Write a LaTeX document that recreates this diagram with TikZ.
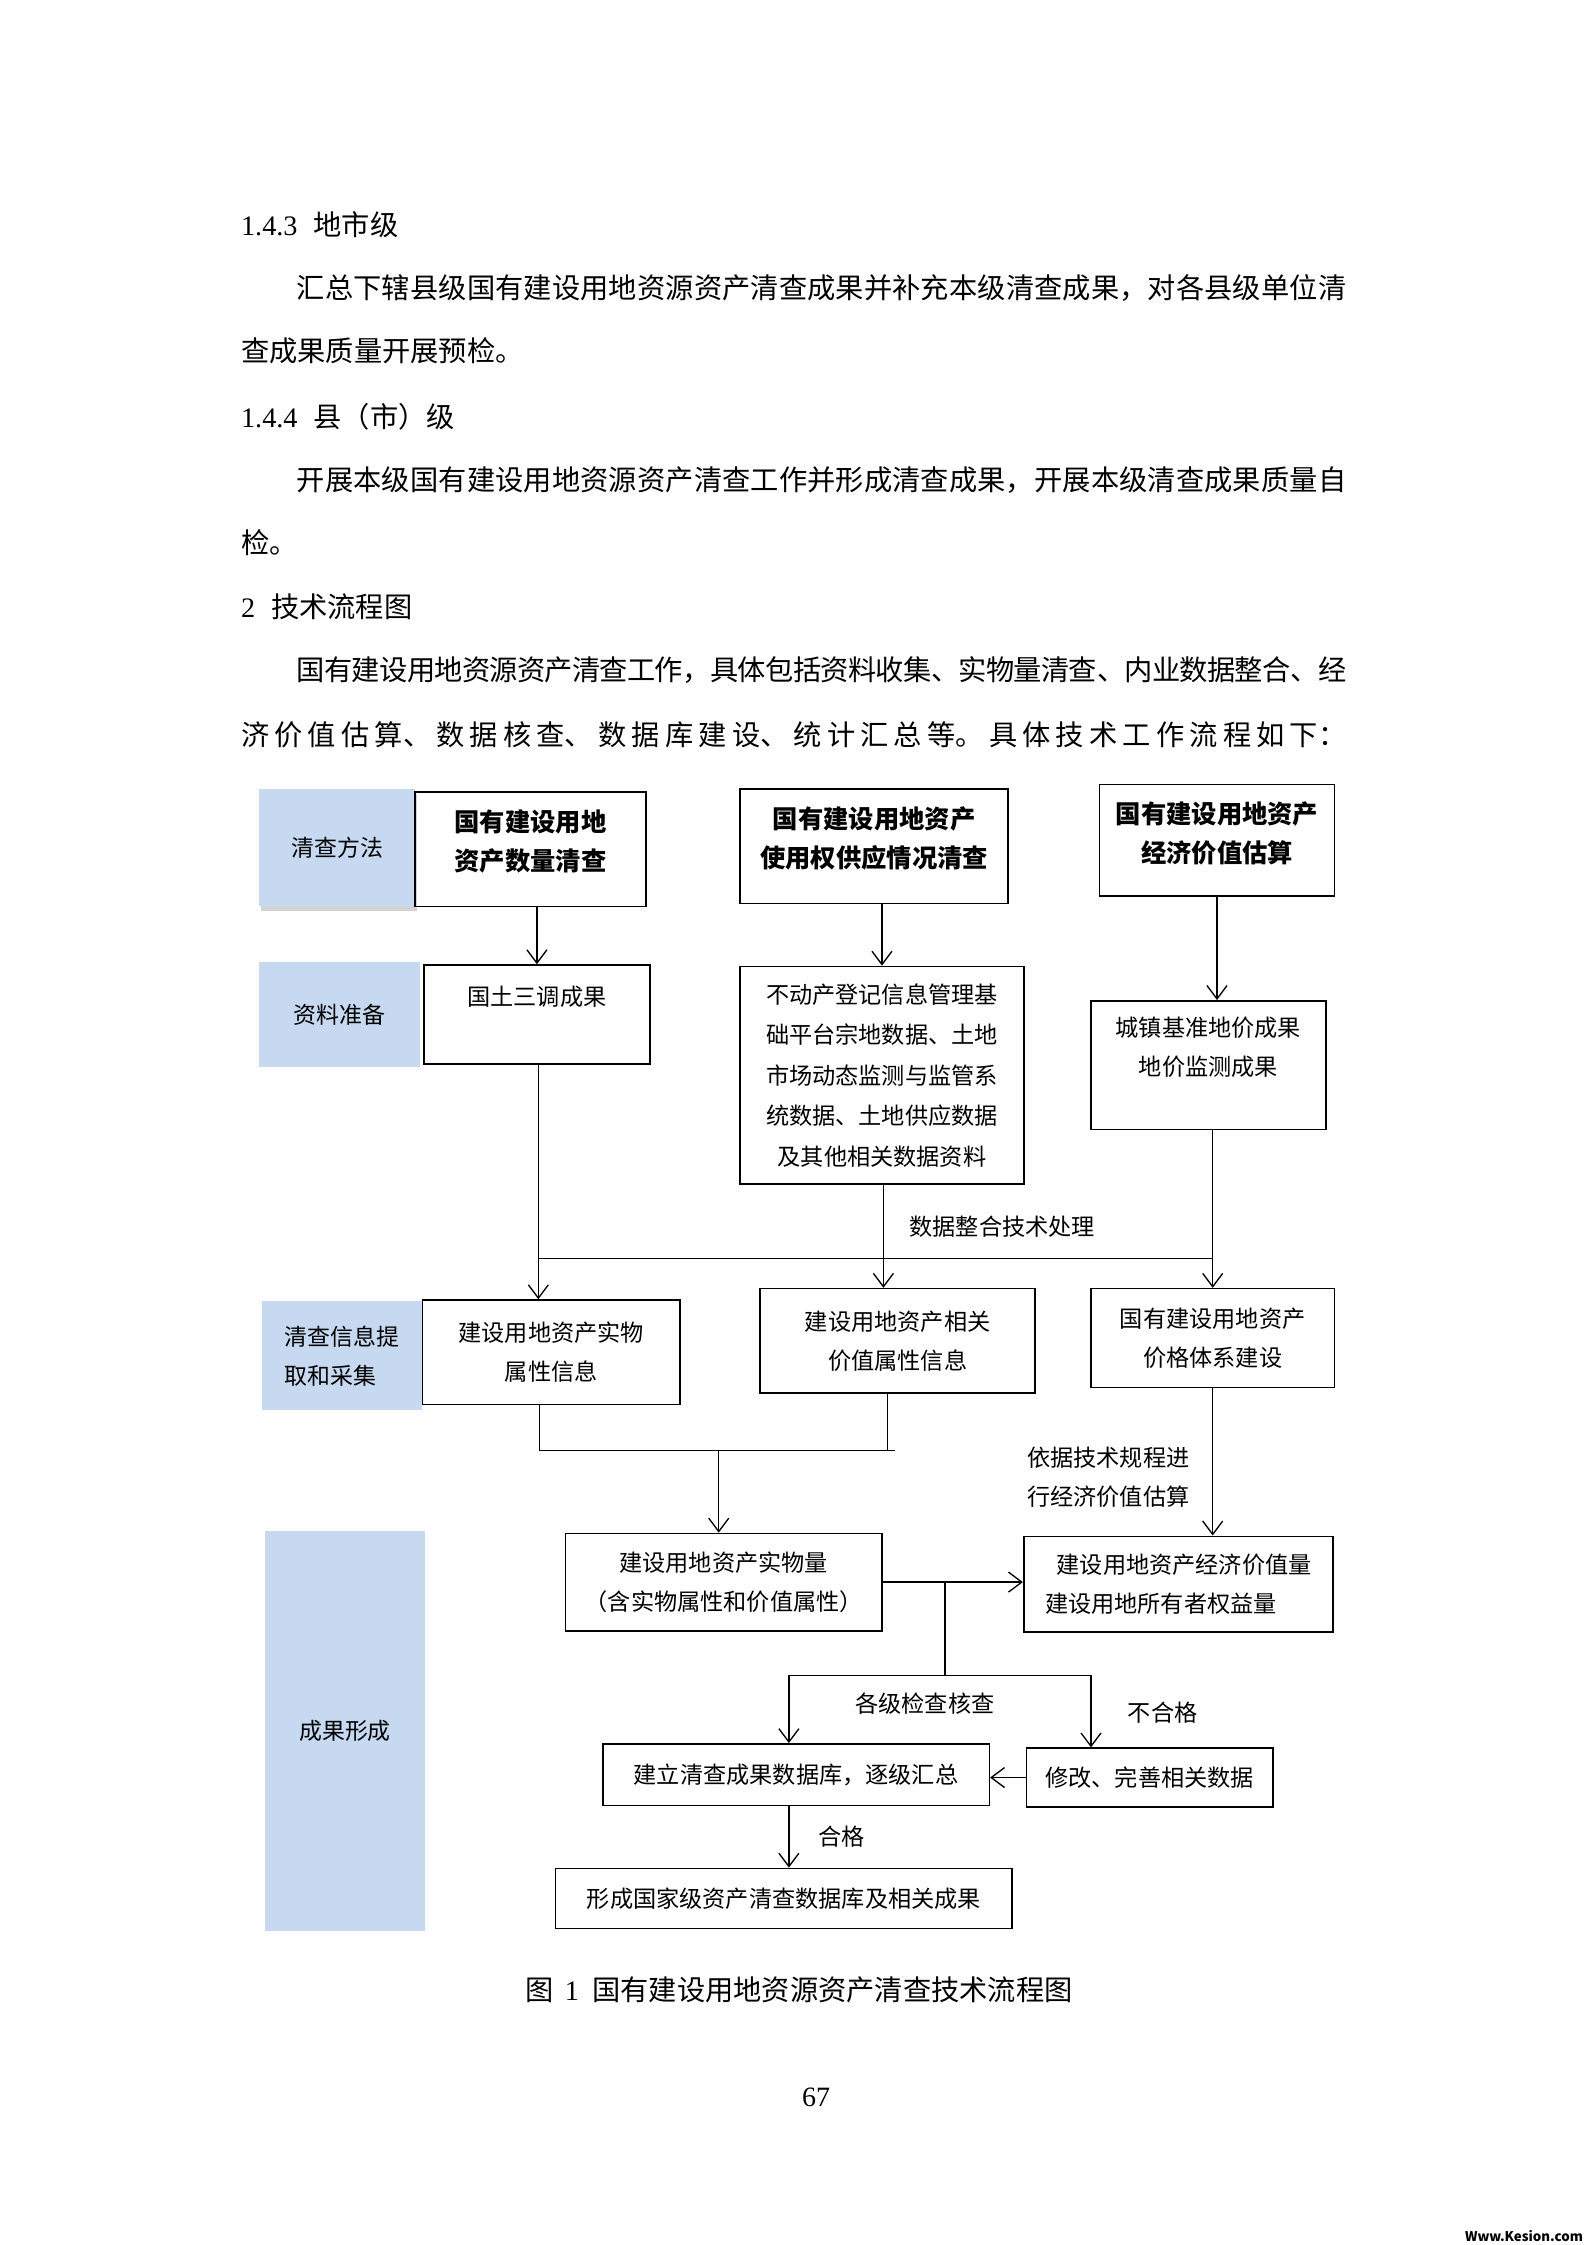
\documentclass[tikz,border=0pt]{standalone}
\usepackage{fontspec}
\setmainfont{Noto Sans CJK SC}
\newfontfamily\tnr{Liberation Serif}
\usepackage{tikz}
\usetikzlibrary{arrows.meta, positioning, calc, shadows}
\XeTeXlinebreaklocale "zh"
\XeTeXlinebreakskip=0pt plus 2pt minus 0.5pt
\definecolor{tagblue}{RGB}{198,217,240}
\def\px{0.5373pt}
% one justified line of body text
\newcommand\fillline[2]{\parbox{#1}{\tolerance=9999\parfillskip=0pt\relax #2}}

\tikzset{
  wh/.style 2 args={minimum width=#1*\px, minimum height=#2*\px},
  flowbox/.style={draw, line width=0.6pt, inner sep=0pt, align=center, font=\fontsize{8.7}{14.6}\selectfont},
  titlebox/.style={flowbox, font=\bfseries\fontsize{9.5}{14.6}\selectfont},
  tagbox/.style={fill=tagblue, inner sep=0pt, align=center, font=\fontsize{8.6}{14.6}\selectfont},
  note/.style={inner sep=0pt, align=left, font=\fontsize{8.7}{14.6}\selectfont},
  bodytext/.style={inner sep=0pt, anchor=west, font=\fontsize{10.6}{12}\selectfont},
  link/.style={line width=0.5pt},
}

\begin{document}
\begin{tikzpicture}[x=\px, y=-\px, >={Straight Barb[length=5pt,width=7.5pt]}]
\useasboundingbox (0,0) rectangle (1108,1568);

% body text above the chart
\node[bodytext] (h143) at (168,157) {{\tnr 1.4.3}\hspace{6pt}地市级};
\node[bodytext] (p1a) at (207,201) {\fillline{393.8pt}{汇总下辖县级国有建设用地资源资产清查成果并补充本级清查成果，对各县级单位清}};
\node[bodytext] (p1b) at (168,245) {查成果质量开展预检。};
\node[bodytext] (h144) at (168,291) {{\tnr 1.4.4}\hspace{6pt}县（市）级};
\node[bodytext] (p2a) at (207,335) {\fillline{393.8pt}{开展本级国有建设用地资源资产清查工作并形成清查成果，开展本级清查成果质量自}};
\node[bodytext] (p2b) at (168,379) {检。};
\node[bodytext] (h2) at (168,424) {{\tnr 2}\hspace{6pt}技术流程图};
\node[bodytext] (p3a) at (207,468) {\fillline{393.8pt}{国有建设用地资源资产清查工作，具体包括资料收集、实物量清查、内业数据整合、经}};
\node[bodytext] (p3b) at (168,513) {\fillline{414.8pt}{济价值估算、数据核查、数据库建设、统计汇总等。具体技术工作流程如下：}};

% stage tags
\node[tagbox, wh={109}{82}, drop shadow={shadow xshift=0.8pt, shadow yshift=-1.8pt, opacity=0.35}] (tmethod) at (235.5,592) {清查方法};
\node[tagbox, wh={112}{73}] (tdata) at (237,708.5) {资料准备};
\node[tagbox, wh={112}{76}, align=left] (tcollect) at (239,947) {清查信息提\\取和采集};
\node[tagbox, wh={112}{280}] (tresult) at (241,1209) {成果形成};

% row 1: methods
\node[titlebox, wh={161}{80}] (m1) at (370.5,593) {国有建设用地\\资产数量清查\\[-8pt]\mbox{}};
\node[titlebox, wh={187}{80}] (m2) at (610.5,591) {国有建设用地资产\\使用权供应情况清查\\[-8pt]\mbox{}};
\node[titlebox, wh={164}{78}] (m3) at (850,587) {国有建设用地资产\\经济价值估算\\[-8pt]\mbox{}};

% row 2: data
\node[flowbox, wh={158}{69}, label={[note, anchor=north, yshift=-8pt]north:国土三调成果}] (d1) at (375,708.5) {};
\node[flowbox, wh={198}{152}, font=\fontsize{8.7}{15.2}\selectfont] (d2) at (616,751) {不动产登记信息管理基\\础平台宗地数据、土地\\市场动态监测与监管系\\统数据、土地供应数据\\及其他相关数据资料};
\node[flowbox, wh={164}{90}] (d3) at (844,744) {城镇基准地价成果\\地价监测成果\\\mbox{}};

% row 3: collection
\node[flowbox, wh={180}{73}] (c1) at (385,944.5) {建设用地资产实物\\属性信息};
\node[flowbox, wh={192}{73}] (c2) at (627,936.5) {建设用地资产相关\\价值属性信息};
\node[flowbox, wh={170}{69}] (c3) at (847,934.5) {国有建设用地资产\\价格体系建设};

% row 4: results
\node[flowbox, wh={221}{68}] (r1) at (505.5,1105) {建设用地资产实物量\\（含实物属性和价值属性）};
\node[flowbox, wh={216}{67}, align=left] (r2) at (823,1106.5) {\hspace{0.5em}建设用地资产经济价值量\\建设用地所有者权益量};
\node[flowbox, wh={270}{43}] (k1) at (556,1239.5) {建立清查成果数据库，逐级汇总};
\node[flowbox, wh={172}{41}] (k2) at (803,1241.5) {修改、完善相关数据};
\node[flowbox, wh={319}{42}] (f1) at (547.5,1326) {形成国家级资产清查数据库及相关成果};

% junctions
\coordinate (bl) at (376,879);
\coordinate (bm) at (617,879);
\coordinate (br) at (847,879);
\coordinate (ml) at (377,1013);
\coordinate (mc) at (620,1013);
\coordinate (mr) at (625,1013);
\coordinate (mm) at (502,1013);
\coordinate (split) at (660,1170);
\coordinate (sl) at (551,1170);
\coordinate (sr) at (762,1170);

% connectors
\draw[link, ->] (d1.north |- m1.south) -- (d1.north);
\draw[link, ->] (d2.north |- m2.south) -- (d2.north);
\draw[link, ->] (m3.south) -- (m3.south |- d3.north);
\draw[link] (bl) -- (br);
\draw[link, ->] (bl |- d1.south) -- (bl |- c1.north);
\draw[link, ->] (bm |- d2.south) -- (bm |- c2.north);
\draw[link, ->] (br |- d3.south) -- (br |- c3.north);
\node[note] (lmerge) at (700,857) {数据整合技术处理};

\draw[link] (ml |- c1.south) -- (ml) -- (mr);
\draw[link] (mc |- c2.south) -- (mc);
\draw[link, ->] (mm) -- (mm |- r1.north);
\draw[link, ->] (c3.south) -- (c3.south |- r2.north);
\node[note, anchor=west] (lvalue) at (717,1031.5) {依据技术规程进\\行经济价值估算};

\draw[link, ->] (r1.east) -- (r1.east -| r2.west);
\draw[link] (split |- r1.east) -- (split);
\draw[link] (sl) -- (sr);
\draw[link, ->] (sl) -- (sl |- k1.north);
\draw[link, ->] (sr) -- (sr |- k2.north);
\node[note] (lcheck) at (646,1190) {各级检查核查};
\node[note] (lfail) at (812,1196) {不合格};
\draw[link, ->] (k2.west) -- (k2.west -| k1.east);
\draw[link, ->] (sl |- k1.south) -- (sl |- f1.north);
\node[note] (lpass) at (588,1283) {合格};

% caption, page number, mark
\node[bodytext] (caption) at (367,1390) {图\hspace{4pt}{\tnr 1}\hspace{5pt}国有建设用地资源资产清查技术流程图};
\node[inner sep=0pt, font=\tnr\fontsize{10.5}{12}\selectfont] (pageno) at (570,1465) {67};
\node[inner sep=0pt, anchor=east, font=\bfseries\fontsize{5}{6}\selectfont] (mark) at (1106,1562) {Www.Kesion.com};
\end{tikzpicture}
\end{document}
